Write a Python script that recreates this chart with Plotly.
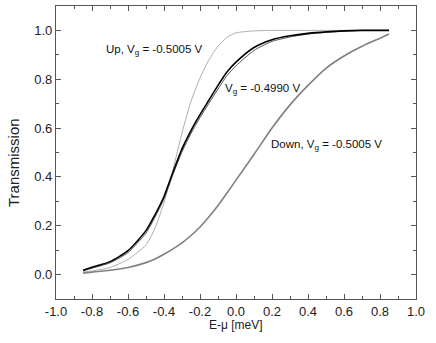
import plotly.graph_objects as go

energy = [-0.85, -0.8, -0.7, -0.6, -0.5, -0.45, -0.4, -0.35, -0.3, -0.25, -0.2, -0.15, -0.1,
          -0.05, 0.0, 0.1, 0.2, 0.3, 0.4, 0.5, 0.6, 0.7, 0.8, 0.85]

t_mid_a = [0.018, 0.030, 0.053, 0.098, 0.180, 0.245, 0.320, 0.420, 0.515, 0.590, 0.655, 0.715,
           0.775, 0.830, 0.870, 0.930, 0.962, 0.978, 0.988, 0.994, 0.998, 1.0, 1.0, 1.0]
t_mid_b = [0.015, 0.026, 0.048, 0.090, 0.170, 0.235, 0.310, 0.410, 0.503, 0.578, 0.643, 0.702,
           0.760, 0.815, 0.855, 0.918, 0.955, 0.973, 0.985, 0.992, 0.997, 1.0, 1.0, 1.0]
t_up = [0.010, 0.015, 0.029, 0.062, 0.122, 0.190, 0.295, 0.430, 0.580, 0.710, 0.805, 0.880,
        0.935, 0.972, 0.990, 0.998, 1.0, 1.0, 1.0, 1.0, 1.0, 1.0, 1.0, 1.0]
t_down = [0.006, 0.010, 0.018, 0.029, 0.049, 0.064, 0.083, 0.105, 0.130, 0.160, 0.195, 0.237,
          0.283, 0.334, 0.387, 0.492, 0.600, 0.695, 0.775, 0.845, 0.895, 0.935, 0.968, 0.985]

x_ticks = [-1.0, -0.8, -0.6, -0.4, -0.2, 0.0, 0.2, 0.4, 0.6, 0.8, 1.0]
y_ticks = [0.0, 0.2, 0.4, 0.6, 0.8, 1.0]

FONT = "Liberation Sans, Arial, sans-serif"

fig = go.Figure()
fig.add_trace(go.Scatter(x=energy, y=t_down, mode="lines",
                         line=dict(color="#808080", width=1.6, shape="spline", smoothing=0.6)))
fig.add_trace(go.Scatter(x=energy, y=t_up, mode="lines",
                         line=dict(color="#9a9a9a", width=0.8, shape="spline", smoothing=0.6)))
fig.add_trace(go.Scatter(x=energy, y=t_mid_b, mode="lines",
                         line=dict(color="#555555", width=1.0, shape="spline", smoothing=0.6)))
fig.add_trace(go.Scatter(x=energy, y=t_mid_a, mode="lines",
                         line=dict(color="#000000", width=1.6, shape="spline", smoothing=0.6)))

axis_common = dict(
    showline=True, linecolor="#555555", linewidth=1.3, mirror="ticks",
    ticks="inside", ticklen=5, tickwidth=1, tickcolor="#555555",
    showgrid=False, zeroline=False, automargin=False,
    tickfont=dict(family=FONT, size=13, color="#222222"),
)

fig.update_xaxes(range=[-1.0, 1.0], tickvals=x_ticks, ticktext=[f"{v:.1f}" for v in x_ticks],
                 minor=dict(dtick=0.1, ticks="inside", ticklen=3, tickcolor="#555555"),
                 **axis_common)
fig.update_yaxes(range=[-0.1, 1.1], tickvals=y_ticks, ticktext=[f"{v:.1f}" for v in y_ticks],
                 minor=dict(dtick=0.1, ticks="inside", ticklen=3, tickcolor="#555555"),
                 **axis_common)

ann_font = dict(family=FONT, size=11.5, color="#111111")
fig.add_annotation(x=-0.735, y=0.918, xref="x", yref="y", xanchor="left", yanchor="middle",
                   text="Up, V<sub>g</sub> = -0.5005 V", showarrow=False, font=ann_font)
fig.add_annotation(x=-0.075, y=0.76, xref="x", yref="y", xanchor="left", yanchor="middle",
                   text="V<sub>g</sub> = -0.4990 V", showarrow=False, font=ann_font)
fig.add_annotation(x=0.185, y=0.53, xref="x", yref="y", xanchor="left", yanchor="middle",
                   text="Down, V<sub>g</sub> = -0.5005 V", showarrow=False, font=ann_font)

fig.add_annotation(x=0.5, y=-0.09, xref="paper", yref="paper", xanchor="center", yanchor="middle",
                   text="E-\u03bc [meV]", showarrow=False, font=dict(family=FONT, size=12, color="#222222"))
fig.add_annotation(x=-0.116, y=0.465, xref="paper", yref="paper", xanchor="center", yanchor="middle",
                   text="Transmission", textangle=-90, showarrow=False,
                   font=dict(family=FONT, size=15, color="#222222"))

fig.update_layout(
    template="none",
    width=436, height=343,
    margin=dict(l=56, r=20, t=6, b=44, autoexpand=False),
    plot_bgcolor="white", paper_bgcolor="white",
    showlegend=False,
)

fig.write_html("out.html", config={"displayModeBar": False},
               post_script="document.body.style.margin='0px';")
